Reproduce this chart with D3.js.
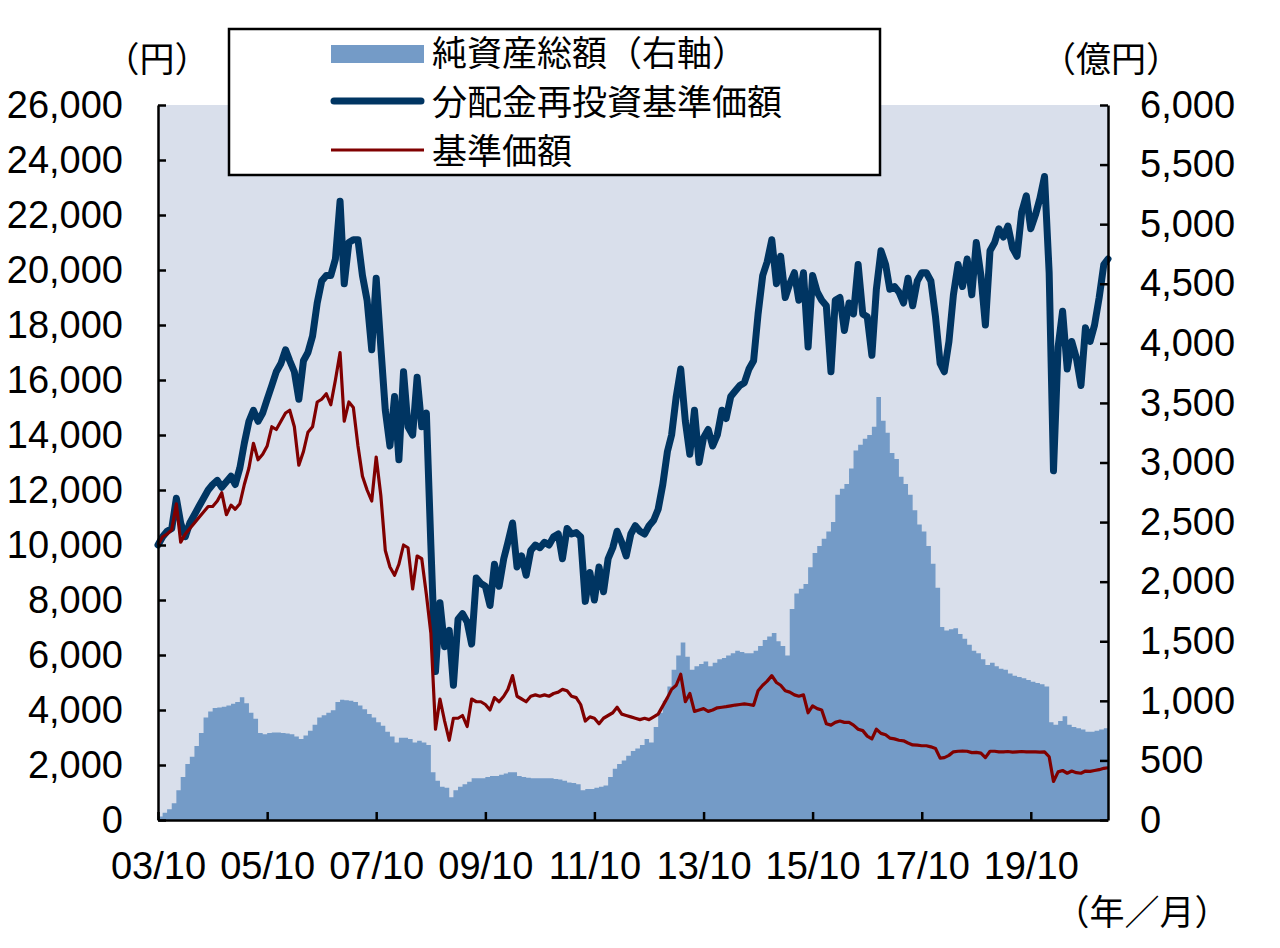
<!DOCTYPE html>
<html>
<head>
<meta charset="utf-8">
<script src="https://cdn.jsdelivr.net/npm/d3@7"></script>
<style>
body { margin: 0; background: #fff; }
text { font-family: "Liberation Sans", Arial, sans-serif; fill: #000; }
.jp { font-family: "Noto Sans CJK JP", "Noto Sans", sans-serif; }
</style>
</head>
<body>
<script>

// monthly points, 2003/10 .. 2021/03
var months = d3.timeMonth.range(new Date(2003, 9, 1), new Date(2021, 3, 1));

// 分配金再投資基準価額 (円)
var reinvestPrice = [
  10000,10300,10500,10600,11700,10800,10300,10800,11100,11400,11700,12000,
  12200,12350,12100,12300,12500,12200,12800,13700,14500,14900,14500,14800,
  15300,15800,16300,16600,17100,16700,16300,15300,16700,17000,17600,18800,
  19600,19800,19800,20400,22500,19500,21000,21100,21100,19800,18900,17100,
  19700,17200,14900,13600,15400,13100,16300,14300,14000,16100,14300,14800,
  10000,5400,7900,6300,6900,4900,7300,7500,7200,6400,8800,8600,
  8500,7800,9300,8500,9500,10100,10800,9200,9600,8900,9800,10000,
  9900,10100,10000,10300,10400,9500,10600,10400,10450,10300,7950,9000,
  8000,9200,8300,9500,9900,10500,10100,9600,10400,10700,10500,10400,
  10700,10900,11300,12200,13400,14000,15400,16400,14500,13300,14900,13000,
  13900,14200,13600,14000,14900,14600,15400,15600,15800,15900,16400,16700,
  18400,19800,20300,21100,19500,20500,19000,19500,19900,18900,19900,17200,
  19800,19200,18900,18700,16300,18900,19000,17800,18800,18400,20200,18400,
  18300,16900,19300,20700,20200,19300,19400,19200,18800,19700,18700,19600,
  19900,19900,19600,18300,16600,16300,17400,19100,20200,19400,20400,19100,
  21000,19800,18000,20700,21000,21500,21200,21600,20800,20500,22100,22700,
  21500,22000,22600,23400,19900,12700,17200,18500,16400,17400,16800,15800,
  17900,17400,18000,19000,20200,20400
];

// 基準価額 (円)
var basePrice = [
  10000,10300,10400,10550,11500,10100,10400,10600,10800,11000,11200,11400,
  11400,11600,11900,11100,11450,11300,11500,12200,12800,13700,13100,13300,
  13600,14300,14200,14500,14800,14900,14300,12900,13400,14100,14300,15200,
  15300,15500,15100,16000,17000,14500,15200,15000,13600,12500,12000,11600,
  13200,11800,9800,9200,8900,9300,10000,9900,8400,9600,9500,8200,
  6800,3300,4400,3600,2900,3700,3700,3800,3400,4400,4300,4300,
  4200,4000,4450,4300,4500,4750,5250,4500,4400,4300,4500,4550,
  4500,4550,4500,4600,4650,4750,4700,4500,4450,4200,3600,3750,
  3700,3500,3700,3800,3900,4100,3850,3800,3750,3700,3650,3700,
  3650,3750,3850,4150,4450,4750,4900,5300,4300,4600,3950,4000,
  4050,3950,4000,4080,4100,4120,4150,4180,4200,4220,4200,4170,
  4700,4900,5050,5250,5000,4900,4700,4650,4550,4500,4550,3900,
  4150,4050,4000,3500,3450,3550,3600,3550,3550,3450,3300,3250,
  3050,2950,3300,3150,3100,2980,2950,2900,2880,2800,2730,2720,
  2700,2700,2660,2600,2250,2270,2350,2480,2500,2510,2500,2450,
  2460,2430,2270,2500,2500,2480,2480,2490,2470,2480,2490,2480,
  2480,2480,2470,2480,2300,1400,1750,1800,1700,1780,1720,1700,
  1780,1770,1800,1830,1880,1900
];

// 純資産総額 (億円, 右軸)
var netAssets = [
  30,60,90,140,250,360,470,530,620,730,860,910,
  940,945,950,960,975,990,1030,980,900,850,730,720,
  730,735,735,730,725,720,700,680,710,750,800,860,
  880,900,920,990,1010,1005,1000,990,960,930,890,860,
  820,790,740,700,650,690,690,680,650,665,650,630,
  400,330,280,270,190,250,280,300,320,350,350,350,
  360,370,370,380,390,400,400,370,360,355,350,350,
  350,350,350,345,340,330,315,310,300,250,260,260,
  270,280,290,360,430,470,500,540,580,600,630,680,
  650,780,900,1000,1120,1260,1380,1490,1370,1260,1290,1310,
  1330,1290,1320,1350,1360,1380,1400,1420,1410,1400,1400,1420,
  1460,1510,1540,1570,1500,1460,1380,1770,1900,1940,1980,2120,
  2240,2300,2360,2420,2500,2730,2780,2820,2950,3100,3150,3200,
  3230,3300,3550,3350,3250,3080,3030,2880,2820,2730,2600,2480,
  2420,2300,2150,1950,1620,1590,1600,1610,1560,1520,1470,1420,
  1400,1350,1300,1320,1290,1270,1260,1230,1210,1200,1190,1175,
  1160,1150,1140,1120,820,800,830,870,800,780,770,760,
  740,740,750,760,770,780
];

var leftTicks = d3.range(0, 26001, 2000);
var rightTicks = d3.range(0, 6001, 500);
var xTicks = d3.range(2003, 2020, 2).map(function(y) { return new Date(y, 9, 1); });

var legendItems = ["純資産総額（右軸）", "分配金再投資基準価額", "基準価額"];

var width = 1280, height = 948;
var plotL = 158, plotR = 1108, plotT = 105, plotB = 820;

var svg = d3.select("body").append("svg")
    .attr("width", width)
    .attr("height", height);

var x = d3.scaleTime().domain([months[0], months[months.length - 1]]).range([plotL, plotR]);
var yL = d3.scaleLinear().domain([0, 26000]).range([plotB, plotT]);
var yR = d3.scaleLinear().domain([0, 6000]).range([plotB, plotT]);

var data = months.map(function(d, i) {
  return {date: d, re: reinvestPrice[i], base: basePrice[i], assets: netAssets[i]};
});

// plot background
svg.append("rect")
    .attr("x", plotL).attr("y", plotT)
    .attr("width", plotR - plotL).attr("height", plotB - plotT)
    .attr("fill", "#d9dfeb");

var area = d3.area()
    .x(function(d) { return x(d.date); })
    .y0(plotB)
    .y1(function(d) { return yR(d.assets); })
    .curve(d3.curveStepAfter);

svg.append("path").datum(data)
    .attr("d", area)
    .attr("fill", "#749bc7");

var lineRe = d3.line()
    .x(function(d) { return x(d.date); })
    .y(function(d) { return yL(d.re); });

var lineBase = d3.line()
    .x(function(d) { return x(d.date); })
    .y(function(d) { return yL(d.base); });

svg.append("path").datum(data)
    .attr("d", lineRe)
    .attr("fill", "none")
    .attr("stroke", "#003562")
    .attr("stroke-width", 7)
    .attr("stroke-linejoin", "round")
    .attr("stroke-linecap", "round");

svg.append("path").datum(data)
    .attr("d", lineBase)
    .attr("fill", "none")
    .attr("stroke", "#800000")
    .attr("stroke-width", 3.2)
    .attr("stroke-linejoin", "round");

// axes
function styleAxis(g) {
  g.select(".domain").attr("stroke", "#000").attr("stroke-width", 2.5);
  g.selectAll(".tick line").attr("stroke", "#000").attr("stroke-width", 2.5);
  g.selectAll(".tick text")
      .attr("font-family", "'Liberation Sans', Arial, sans-serif")
      .attr("font-size", 38)
      .attr("fill", "#000");
}

svg.append("g")
    .attr("transform", "translate(" + plotL + ",0)")
    .call(d3.axisLeft(yL).tickValues(leftTicks).tickFormat(d3.format(","))
        .tickSize(-8).tickSizeOuter(0).tickPadding(35))
    .call(styleAxis);

svg.append("g")
    .attr("transform", "translate(" + plotR + ",0)")
    .call(d3.axisRight(yR).tickValues(rightTicks).tickFormat(d3.format(","))
        .tickSize(-8).tickSizeOuter(0).tickPadding(32))
    .call(styleAxis);

svg.append("g")
    .attr("transform", "translate(0," + plotB + ")")
    .call(d3.axisBottom(x).tickValues(xTicks).tickFormat(d3.timeFormat("%y/%m"))
        .tickSize(-8).tickSizeOuter(0).tickPadding(32))
    .call(styleAxis);

// unit labels
svg.append("text").attr("class", "jp")
    .attr("x", 157).attr("y", 72)
    .attr("text-anchor", "middle").attr("font-size", 35)
    .text("（円）");

svg.append("text").attr("class", "jp")
    .attr("x", 1111).attr("y", 72)
    .attr("text-anchor", "middle").attr("font-size", 35)
    .text("（億円）");

svg.append("text").attr("class", "jp")
    .attr("x", 1142).attr("y", 925)
    .attr("text-anchor", "middle").attr("font-size", 35)
    .text("（年／月）");

// legend
var legend = svg.append("g");

legend.append("rect")
    .attr("x", 229).attr("y", 29)
    .attr("width", 651).attr("height", 146)
    .attr("fill", "#fff")
    .attr("stroke", "#000")
    .attr("stroke-width", 2.5);

legend.append("rect")
    .attr("x", 331).attr("y", 45)
    .attr("width", 93).attr("height", 18)
    .attr("fill", "#749bc7");

legend.append("line")
    .attr("x1", 334).attr("x2", 421)
    .attr("y1", 101).attr("y2", 101)
    .attr("stroke", "#003562").attr("stroke-width", 7)
    .attr("stroke-linecap", "round");

legend.append("line")
    .attr("x1", 331).attr("x2", 424)
    .attr("y1", 150).attr("y2", 150)
    .attr("stroke", "#800000").attr("stroke-width", 3);

legend.selectAll(".lab")
    .data(legendItems)
    .enter().append("text")
    .attr("class", "jp lab")
    .attr("x", 432)
    .attr("y", function(d, i) { return 66 + i * 49; })
    .attr("font-size", 35)
    .text(function(d) { return d; });

</script>
</body>
</html>
